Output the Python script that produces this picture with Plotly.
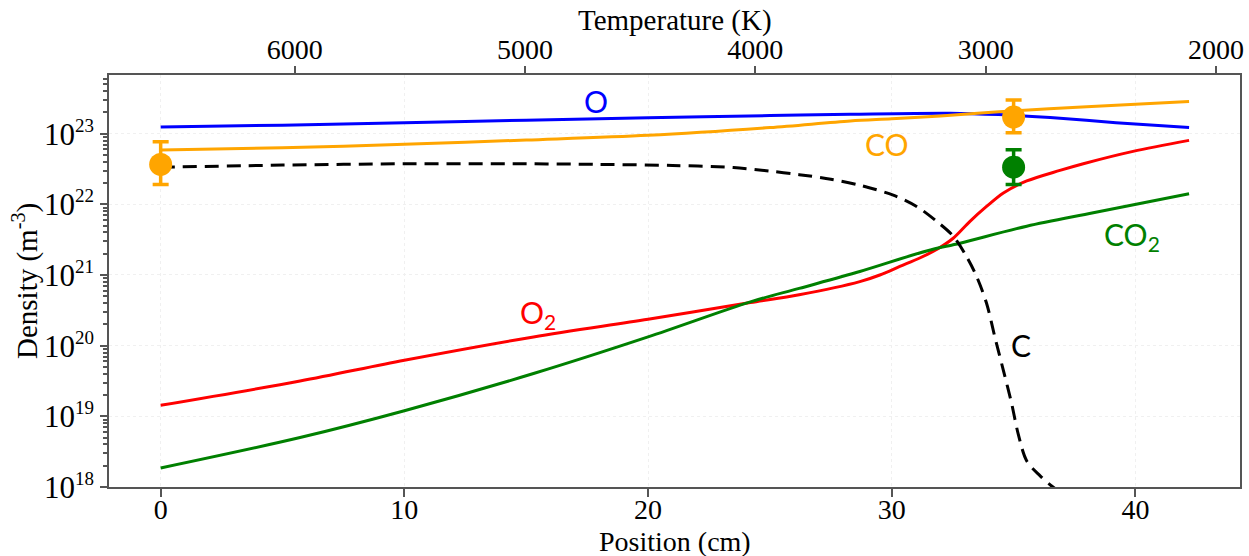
import plotly.graph_objects as go

# ---------------- data ----------------
o_x = [0, 5, 10, 15, 20, 25, 28.3, 32.4, 34.4, 36.5, 39.2, 42.2]
o_y = [1.24e23, 1.32e23, 1.43e23, 1.55e23, 1.68e23, 1.80e23, 1.88e23, 1.95e23, 1.86e23, 1.69e23, 1.43e23, 1.22e23]

co_x = [0, 5, 10, 15, 20, 25, 28.3, 30, 32, 34.4, 38, 42.2]
co_y = [5.85e22, 6.31e22, 7.08e22, 8.13e22, 9.46e22, 1.22e23, 1.51e23, 1.62e23, 1.78e23, 2.04e23, 2.40e23, 2.85e23]

c_x = [0, 5, 10, 15, 18, 21, 23.5, 25, 26.2, 27.5, 28.69, 30.06, 31.02, 31.84, 32.52, 33.07, 33.48,
       33.89, 34.23, 34.58, 34.92, 35.19, 35.54, 36.08, 36.63, 37.2]
c_y = [3.35e22, 3.59e22, 3.75e22, 3.75e22, 3.67e22, 3.55e22, 3.31e22, 2.95e22, 2.63e22, 2.27e22,
       1.86e22, 1.35e22, 9.33e21, 5.75e21, 3.55e21, 1.82e21, 9.55e20, 3.98e20, 1.33e20, 4.47e19,
       1.51e19, 5.62e18, 2.34e18, 1.45e18, 9.89e17, 7.6e17]

o2_x = [0, 5.72, 10, 15.3, 20, 24.2, 26.2, 28.69, 29.51, 30.33, 31.15, 31.84, 32.52, 33.21, 33.89,
        34.58, 35.54, 36.9, 37.86, 39.9, 42.2]
o2_y = [1.43e19, 3.16e19, 6.22e19, 1.33e20, 2.36e20, 4.07e20, 5.25e20, 8.05e20, 1.00e21, 1.32e21,
        1.74e21, 2.29e21, 3.31e21, 5.75e21, 9.33e21, 1.45e22, 2.14e22, 3.02e22, 3.76e22, 5.62e22, 8.04e22]

co2_x = [0, 5.72, 10, 15.3, 20, 24.2, 26.2, 28.69, 31.43, 32.8, 35.54, 38.27, 42.2]
co2_y = [1.86e18, 5.01e18, 1.20e19, 4.03e19, 1.33e20, 4.17e20, 6.46e20, 1.12e21, 2.19e21, 2.82e21,
         4.90e21, 7.59e21, 1.41e22]

# measured points
co_meas_x = [0, 35]
co_meas_y = [3.67e22, 1.72e23]
co_meas_hi = [7.7e22, 3.0e23]
co_meas_lo = [1.9e22, 1.03e23]

co2_meas_x = [35]
co2_meas_y = [3.36e22]
co2_meas_hi = [5.9e22]
co2_meas_lo = [1.9e22]

pos_ticks = [0, 10, 20, 30, 40]
temp_ticks = [6000, 5000, 4000, 3000, 2000]
density_ticks = [1e18, 1e19, 1e20, 1e21, 1e22, 1e23]
density_exps = ["18", "19", "20", "21", "22", "23"]

# labels: (text, x, log10 y, colour)
labels = [
    ("O", 17.85, 23.465, "#0000ff"),
    ("CO", 29.8, 22.848, "#ffa500"),
    ("CO<sub>2</sub>", 39.85, 21.55, "#008000"),
    ("O<sub>2</sub>", 15.5, 20.45, "#ff0000"),
    ("C", 35.3, 20.01, "#000000"),
]

# ---------------- figure ----------------
fig = go.Figure()

lw = 3
sp = dict(shape="spline", smoothing=0.9)
fig.add_trace(go.Scatter(x=o_x, y=o_y, mode="lines", line=dict(color="#0000ff", width=lw, **sp)))
fig.add_trace(go.Scatter(x=co_x, y=co_y, mode="lines", line=dict(color="#ffa500", width=lw, **sp)))
fig.add_trace(go.Scatter(x=o2_x, y=o2_y, mode="lines", line=dict(color="#ff0000", width=lw, **sp)))
fig.add_trace(go.Scatter(x=co2_x, y=co2_y, mode="lines", line=dict(color="#008000", width=lw, **sp)))
fig.add_trace(go.Scatter(x=c_x, y=c_y, mode="lines",
                         line=dict(color="#000000", width=lw, dash="14px,8px", **sp)))

fig.add_trace(go.Scatter(
    x=co_meas_x, y=co_meas_y, mode="markers",
    marker=dict(color="#ffa500", size=23),
    error_y=dict(type="data", symmetric=False,
                 array=[h - v for h, v in zip(co_meas_hi, co_meas_y)],
                 arrayminus=[v - l for l, v in zip(co_meas_lo, co_meas_y)],
                 color="#ffa500", thickness=3.5, width=8)))
fig.add_trace(go.Scatter(
    x=co2_meas_x, y=co2_meas_y, mode="markers",
    marker=dict(color="#008000", size=23),
    error_y=dict(type="data", symmetric=False,
                 array=[h - v for h, v in zip(co2_meas_hi, co2_meas_y)],
                 arrayminus=[v - l for l, v in zip(co2_meas_lo, co2_meas_y)],
                 color="#008000", thickness=3.5, width=8)))

# invisible trace to anchor the top temperature axis
fig.add_trace(go.Scatter(x=temp_ticks, y=[1e20] * len(temp_ticks), xaxis="x2", mode="markers",
                         marker=dict(opacity=0), hoverinfo="skip"))

for text, x, y, col in labels:
    fig.add_annotation(x=x, y=y, text=text, showarrow=False,
                       font=dict(family="Lato", size=30, color=col))

serif = "Liberation Serif"
axcol = "#555555"
grid = "#f0f0f0"

# axis titles placed as paper annotations
fig.add_annotation(xref="paper", yref="paper", x=0.5, y=0, yshift=-54, yanchor="middle",
                   text="Position (cm)", showarrow=False, font=dict(family=serif, size=28))
fig.add_annotation(xref="paper", yref="paper", x=0.5, y=1, yshift=55, yanchor="middle",
                   text="Temperature (K)", showarrow=False, font=dict(family=serif, size=29))
fig.add_annotation(xref="paper", yref="paper", x=0, y=0.5, xshift=-84, xanchor="center",
                   text="Density (m<sup>-3</sup>)", textangle=-90, showarrow=False,
                   font=dict(family=serif, size=29))

ytext = ["10<sup><span style='font-size:19px'>%s</span></sup>" % e for e in density_exps]

fig.update_layout(
    width=1249, height=556,
    margin=dict(l=109, r=9, t=75, b=69),
    paper_bgcolor="white", plot_bgcolor="white",
    showlegend=False,
    font=dict(family=serif, size=28, color="black"),
    xaxis=dict(
        range=[-2.12, 44.29], tickvals=pos_ticks, automargin=False,
        showline=True, linecolor=axcol, linewidth=1.5, mirror=True,
        ticks="outside", ticklen=8, tickcolor=axcol, tickwidth=1.5, ticklabelstandoff=-11,
        showgrid=True, gridcolor=grid, griddash="dot", zeroline=False,
        tickfont=dict(family=serif, size=28),
    ),
    xaxis2=dict(
        overlaying="x", side="top", range=[6806, 1896], tickvals=temp_ticks, automargin=False,
        ticks="outside", ticklen=8, tickcolor=axcol, tickwidth=1.5, ticklabelstandoff=-4,
        showgrid=False, zeroline=False, showline=False,
        tickfont=dict(family=serif, size=28),
    ),
    yaxis=dict(
        type="log", range=[18, 23.83], tickvals=density_ticks, ticktext=ytext, automargin=False,
        showline=True, linecolor=axcol, linewidth=1.5, mirror=True,
        ticks="outside", ticklen=7, tickcolor=axcol, tickwidth=1.5,
        minor=dict(ticks="outside", ticklen=4, tickcolor=axcol, showgrid=False, dtick="D1"),
        showgrid=True, gridcolor=grid, griddash="dot", zeroline=False,
        tickfont=dict(family=serif, size=31),
    ),
)

fig.write_html("out.html", config={"displayModeBar": False},
               post_script="document.body.style.margin='0';document.body.style.overflow='hidden';")
